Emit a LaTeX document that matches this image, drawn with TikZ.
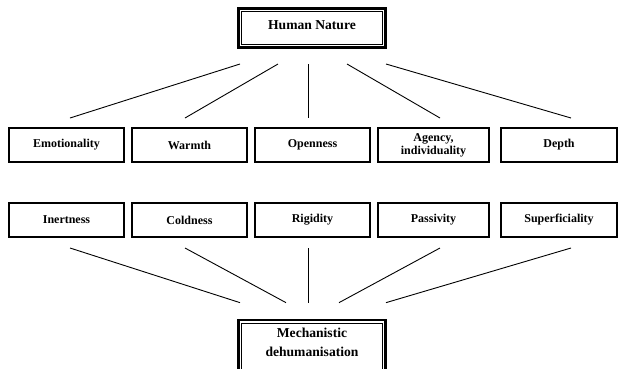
\documentclass[tikz,border=0pt]{standalone}
\usepackage{fontspec}
\setmainfont{Liberation Serif}
\usetikzlibrary{calc}

\begin{document}
\begin{tikzpicture}[x=1pt, y=-1pt,
    trait/.style={draw, line width=1.6pt, minimum height=34.4pt, inner sep=0pt, align=center, font=\bfseries\fontsize{12}{13}\selectfont},
    hub/.style={draw, line width=2.7pt, minimum width=147.3pt, inner sep=0pt, align=center, font=\bfseries\fontsize{13.6}{19}\selectfont},
    link/.style={line width=0.9pt}]
    \useasboundingbox (0,0) rectangle (619,368);
    % central boxes
    \node[hub, minimum height=39.3pt, text depth=6pt] (hn) at (312,28) {Human Nature};
    \node[hub, minimum height=62pt, text depth=17pt] (mech) at (312,351) {Mechanistic\\dehumanisation};
    \draw[line width=0.9pt] ($(hn.north west)+(4.3,4.3)$) rectangle ($(hn.south east)+(-4.3,-4.3)$);
    \draw[line width=0.9pt] ($(mech.north west)+(4.3,4.3)$) rectangle ($(mech.south east)+(-4.3,-4.3)$);
    % human nature traits
    \node[trait, minimum width=115.4pt] (emo) at (66.5,145) {Emotionality};
    \node[trait, minimum width=115.4pt] (warm) at (189.5,145) {Warmth};
    \node[trait, minimum width=115.4pt] (open) at (312.5,145) {Openness};
    \node[trait, minimum width=111.4pt] (agency) at (433.5,145) {Agency,\\individuality};
    \node[trait, minimum width=116.4pt] (depth) at (559,145) {Depth};
    % denied traits
    \node[trait, minimum width=115.4pt] (inert) at (66.5,220) {Inertness};
    \node[trait, minimum width=115.4pt] (cold) at (189.5,220) {Coldness};
    \node[trait, minimum width=115.4pt] (rigid) at (312.5,220) {Rigidity};
    \node[trait, minimum width=111.4pt] (passive) at (433.5,220) {Passivity};
    \node[trait, minimum width=116.4pt] (superf) at (559,220) {Superficiality};
    % links to human nature
    \draw[link] ($(hn.south)+(-72,15)$) -- ($(emo.north)+(3.5,-9)$);
    \draw[link] ($(hn.south)+(-34,15)$) -- ($(warm.north)+(-4.5,-9)$);
    \draw[link] ($(hn.south)+(-4,15)$) -- ($(open.north)+(-4.5,-9)$);
    \draw[link] ($(hn.south)+(35,15)$) -- ($(agency.north)+(6.5,-9)$);
    \draw[link] ($(hn.south)+(74,15)$) -- ($(depth.north)+(12,-9)$);
    % links to mechanistic dehumanisation
    \draw[link] ($(inert.south)+(3.5,10)$) -- ($(mech.north)+(-72,-16)$);
    \draw[link] ($(cold.south)+(-4.5,10)$) -- ($(mech.north)+(-26,-16)$);
    \draw[link] ($(rigid.south)+(-4.5,10)$) -- ($(mech.north)+(-4,-16)$);
    \draw[link] ($(passive.south)+(6.5,10)$) -- ($(mech.north)+(27,-16)$);
    \draw[link] ($(superf.south)+(12,10)$) -- ($(mech.north)+(74,-16)$);
\end{tikzpicture}
\end{document}
